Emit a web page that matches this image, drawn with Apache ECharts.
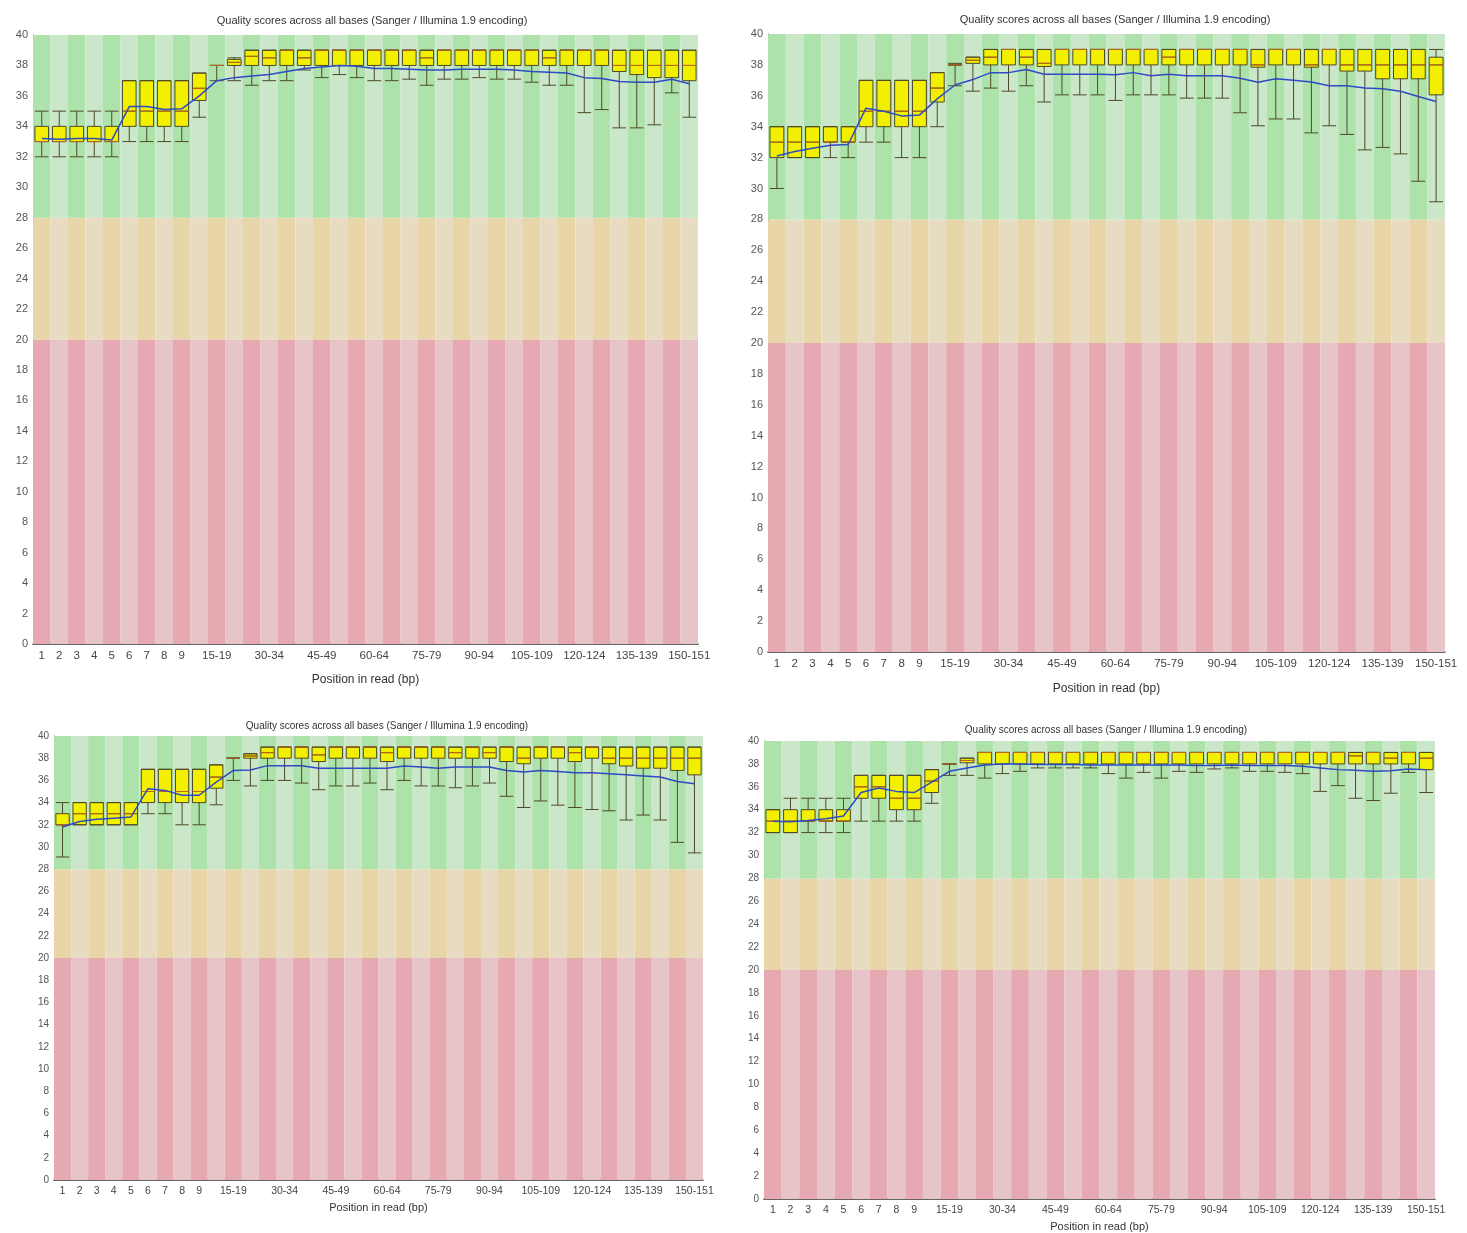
<!DOCTYPE html>
<html>
<head>
<meta charset="utf-8">
<title>Per base sequence quality</title>
<script src="https://cdn.jsdelivr.net/npm/echarts@6/dist/echarts.min.js"></script>
<style>
    html, body { margin: 0; padding: 0; background: #fff; }
    #chartMain { width: 1467px; height: 1233px; }
</style>
</head>
<body>
<div id="chartMain"></div>
<script>
const positions = ['1', '2', '3', '4', '5', '6', '7', '8', '9', '10-14', '15-19', '20-24', '25-29',
    '30-34', '35-39', '40-44', '45-49', '50-54', '55-59', '60-64', '65-69', '70-74', '75-79', '80-84',
    '85-89', '90-94', '95-99', '100-104', '105-109', '110-114', '115-119', '120-124', '125-129',
    '130-134', '135-139', '140-144', '145-149', '150-151'];

// upper edge of the red / orange / green quality bands
const bandTops = [20, 28, 40];

// top left sample
const lowA = [32, 32, 32, 32, 32, 33, 33, 33, 33, 34.6, 37, 37, 36.7, 37, 37, 37.7, 37.2, 37.4, 37.2,
    37, 37, 37.1, 36.7, 37.1, 37.1, 37.2, 37.1, 37.1, 36.9, 36.7, 36.7, 34.9, 35.1, 33.9, 33.9, 34.1, 36.2, 34.6];
const q1A = [33, 33, 33, 33, 33, 34, 34, 34, 34, 35.7, 38, 38, 38, 38, 38, 38, 38, 38, 38,
    38, 38, 38, 38, 38, 38, 38, 38, 38, 38, 38, 38, 38, 38, 37.6, 37.4, 37.2, 37.2, 37];
const medA = [33, 33, 33, 33, 33, 35, 35, 35, 35, 36.5, 38, 38.2, 38.6, 38.5, 39, 38.5, 39, 39, 39,
    39, 39, 39, 38.5, 39, 39, 39, 39, 39, 39, 38.5, 39, 39, 39, 38, 38, 38, 38, 38];
const q3A = [34, 34, 34, 34, 34, 37, 37, 37, 37, 37.5, 38, 38.4, 39, 39, 39, 39, 39, 39, 39,
    39, 39, 39, 39, 39, 39, 39, 39, 39, 39, 39, 39, 39, 39, 39, 39, 39, 39, 39];
const highA = [35, 35, 35, 35, 35, 37, 37, 37, 37, 37.5, 38, 38.5, 39, 39, 39, 39, 39, 39, 39,
    39, 39, 39, 39, 39, 39, 39, 39, 39, 39, 39, 39, 39, 39, 39, 39, 39, 39, 39];
const meanA = [33.2, 33.15, 33.2, 33.2, 33.1, 35.3, 35.3, 35.1, 35.15, 36.0, 37.0, 37.2, 37.3, 37.4, 37.6,
    37.8, 37.9, 38.0, 37.95, 37.8, 37.8, 37.75, 37.7, 37.7, 37.75, 37.75, 37.75, 37.7, 37.6, 37.55, 37.5,
    37.2, 37.15, 36.95, 36.9, 36.9, 37.1, 36.8];

// top right sample
const lowB = [30, 32, 32, 32, 32, 33, 33, 32, 32, 34, 36.65, 36.3, 36.5, 36.3, 36.65, 35.6, 36.06, 36.06, 36.06,
    35.7, 36.06, 36.06, 36.06, 35.85, 35.85, 35.85, 34.9, 34.06, 34.5, 34.5, 33.6, 34.06, 33.5, 32.5, 32.66,
    32.24, 30.47, 29.14];
const q1B = [32, 32, 32, 33, 33, 34, 34, 34, 34, 35.6, 38, 38.1, 38, 38, 38, 37.9, 38, 38, 38,
    38, 38, 38, 38, 38, 38, 38, 38, 37.85, 38, 38, 37.85, 38, 37.6, 37.6, 37.1, 37.1, 37.1, 36.06];
const medB = [33, 33, 33, 33, 33, 35, 35, 35, 35, 36.5, 38, 38.3, 38.5, 39, 38.5, 38.1, 39, 39, 39,
    39, 39, 39, 38.5, 39, 39, 39, 39, 38, 39, 39, 38, 39, 38, 38, 38, 38, 38, 38];
const q3B = [34, 34, 34, 34, 34, 37, 37, 37, 37, 37.5, 38, 38.5, 39, 39, 39, 39, 39, 39, 39,
    39, 39, 39, 39, 39, 39, 39, 39, 39, 39, 39, 39, 39, 39, 39, 39, 39, 39, 38.5];
const highB = [34, 34, 34, 34, 34, 37, 37, 37, 37, 37.5, 38.1, 38.5, 39, 39, 39, 39, 39, 39, 39,
    39, 39, 39, 39, 39, 39, 39, 39, 39, 39, 39, 39, 39, 39, 39, 39, 39, 39, 39];
const meanB = [32.1, 32.4, 32.6, 32.8, 32.85, 35.2, 35.0, 34.7, 34.75, 35.8, 36.7, 37.05, 37.5, 37.5, 37.7,
    37.4, 37.4, 37.4, 37.4, 37.36, 37.5, 37.3, 37.4, 37.3, 37.3, 37.3, 37.14, 36.88, 37.1, 37.0, 36.9,
    36.65, 36.65, 36.5, 36.45, 36.3, 35.96, 35.63];

// bottom left sample
const lowC = [29.1, 32, 32, 32, 32, 33, 33, 32, 32, 33.8, 36, 35.5, 36, 36, 35.76, 35.16, 35.5, 35.5, 35.76,
    35.16, 36, 35.5, 35.5, 35.34, 35.5, 35.76, 34.57, 33.56, 34.15, 33.77, 33.56, 33.38, 33.26, 32.43,
    32.88, 32.43, 30.42, 29.47];
const q1C = [32, 32, 32, 32, 32, 34, 34, 34, 34, 35.3, 38, 38, 38, 38, 38, 37.7, 38, 38, 38,
    37.7, 38, 38, 38, 38, 38, 38, 37.7, 37.5, 38, 38, 37.7, 38, 37.5, 37.3, 37.1, 37.1, 36.9, 36.5];
const medC = [32, 33, 33, 33, 33, 35, 35, 35, 35, 36.3, 38, 38.2, 38.5, 39, 39, 38.3, 39, 39, 39,
    38.5, 39, 39, 39, 38.5, 39, 38.5, 39, 38, 39, 39, 38.5, 39, 38, 38, 38, 38, 38, 38];
const q3C = [33, 34, 34, 34, 34, 37, 37, 37, 37, 37.4, 38, 38.4, 39, 39, 39, 39, 39, 39, 39,
    39, 39, 39, 39, 39, 39, 39, 39, 39, 39, 39, 39, 39, 39, 39, 39, 39, 39, 39];
const highC = [34, 34, 34, 34, 34, 37, 37, 37, 37, 37.4, 38, 38.4, 39, 39, 39, 39, 39, 39, 39,
    39, 39, 39, 39, 39, 39, 39, 39, 39, 39, 39, 39, 39, 39, 39, 39, 39, 39, 39];
const meanC = [31.8, 32.3, 32.5, 32.6, 32.7, 35.25, 35.1, 34.66, 34.66, 35.85, 36.9, 36.94, 37.33, 37.33, 37.33,
    37.1, 37.1, 37.1, 37.1, 37.1, 37.3, 37.2, 37.1, 37.2, 37.2, 37.2, 36.9, 36.75, 36.9, 36.8, 36.7,
    36.7, 36.6, 36.5, 36.4, 36.3, 35.9, 35.7];

// bottom right sample
const lowD = [32, 32, 32, 32, 32, 33, 33, 33, 33, 34.56, 37, 37, 36.76, 37.15, 37.35, 37.65, 37.65, 37.65, 37.65,
    37.15, 36.76, 37.26, 36.76, 37.35, 37.26, 37.56, 37.65, 37.35, 37.35, 37.26, 37.15, 35.6, 36.1, 35.0,
    34.8, 35.44, 37.26, 35.5];
const q1D = [32, 32, 33, 33, 33, 35, 35, 34, 34, 35.5, 38, 38.1, 38, 38, 38, 38, 38, 38, 38,
    38, 38, 38, 38, 38, 38, 38, 38, 38, 38, 38, 38, 38, 38, 38, 38, 38, 38, 37.5];
const medD = [33, 33, 33, 33, 33, 36, 36, 35, 35, 36.5, 38, 38.3, 39, 39, 39, 39, 39, 39, 39,
    39, 39, 39, 39, 39, 39, 39, 39, 39, 39, 39, 39, 39, 39, 38.7, 39, 38.5, 39, 38.5];
const q3D = [34, 34, 34, 34, 34, 37, 37, 37, 37, 37.5, 38, 38.5, 39, 39, 39, 39, 39, 39, 39,
    39, 39, 39, 39, 39, 39, 39, 39, 39, 39, 39, 39, 39, 39, 39, 39, 39, 39, 39];
const highD = [34, 35, 35, 35, 35, 37, 37, 37, 37, 37.5, 38, 38.5, 39, 39, 39, 39, 39, 39, 39,
    39, 39, 39, 39, 39, 39, 39, 39, 39, 39, 39, 39, 39, 39, 39, 39, 39, 39, 39];
const meanD = [33.0, 32.95, 33.05, 33.2, 33.45, 35.5, 35.9, 35.6, 35.5, 36.4, 37.35, 37.65, 37.9, 38.0, 38.0,
    37.95, 37.95, 37.95, 37.9, 37.9, 37.9, 37.9, 37.9, 37.9, 37.85, 37.85, 37.9, 37.85, 37.85, 37.85, 37.8,
    37.65, 37.5, 37.45, 37.35, 37.4, 37.55, 37.5];

const samples = [
    { low: lowA, q1: q1A, med: medA, q3: q3A, high: highA, mean: meanA },
    { low: lowB, q1: q1B, med: medB, q3: q3B, high: highB, mean: meanB },
    { low: lowC, q1: q1C, med: medC, q3: q3C, high: highC, mean: meanC },
    { low: lowD, q1: q1D, med: medD, q3: q3D, high: highD, mean: meanD }
];

// where each panel sits on the page
const layouts = [
    { grid: { left: 33, top: 35, width: 665, height: 609 }, titleX: 367, titleY: 10, font: 11, nameGap: 30 },
    { grid: { left: 768, top: 34, width: 677, height: 618 }, titleX: 1110, titleY: 9, font: 11, nameGap: 31 },
    { grid: { left: 54, top: 736, width: 649, height: 444 }, titleX: 382, titleY: 716, font: 10, nameGap: 22 },
    { grid: { left: 764, top: 741, width: 671, height: 458 }, titleX: 1101, titleY: 720, font: 10, nameGap: 22 }
];

const bandColors = [
    ['#e6a9b1', '#e7c4c7'],
    ['#e8d5a8', '#e7dcc1'],
    ['#aee2ab', '#cbe7c9']
];

const fontFamily = 'Liberation Sans, Arial, sans-serif';

const showLabel = (index) => index < 9 || (index >= 10 && (index - 10) % 3 === 0);

const chartDom = document.getElementById('chartMain');
const myChart = echarts.init(chartDom);

var option = {
    animation: false,
    backgroundColor: '#fff',
    title: [],
    grid: [],
    xAxis: [],
    yAxis: [],
    series: []
};

samples.forEach((s, i) => {
    const lay = layouts[i];

    option.grid.push(lay.grid);

    option.title.push({
        text: 'Quality scores across all bases (Sanger / Illumina 1.9 encoding)',
        left: lay.titleX,
        top: lay.titleY,
        textAlign: 'center',
        textStyle: { fontSize: lay.font, fontWeight: 'normal', color: '#333', fontFamily: fontFamily }
    });

    option.xAxis.push({
        gridIndex: i,
        type: 'category',
        data: positions,
        boundaryGap: true,
        axisLine: { lineStyle: { color: '#333', width: 1.5 } },
        axisTick: { show: false },
        axisLabel: { interval: showLabel, fontSize: lay.font + 0.5, color: '#444', margin: 6, fontFamily: fontFamily },
        splitLine: { show: false },
        name: 'Position in read (bp)',
        nameLocation: 'middle',
        nameGap: lay.nameGap,
        nameTextStyle: { fontSize: lay.font + 1, color: '#333', fontFamily: fontFamily }
    });

    option.yAxis.push({
        gridIndex: i,
        type: 'value',
        min: 0,
        max: 40,
        interval: 2,
        axisLine: { show: true, lineStyle: { color: '#555', width: 1 } },
        axisTick: { show: false },
        splitLine: { show: false },
        axisLabel: { fontSize: lay.font, color: '#555', margin: 5, fontFamily: fontFamily }
    });

    // background quality bands, striped per position
    bandTops.forEach((top, b) => {
        const height = top - (b ? bandTops[b - 1] : 0);
        option.series.push({
            type: 'bar',
            xAxisIndex: i,
            yAxisIndex: i,
            stack: 'band' + i,
            barWidth: '100%',
            barCategoryGap: '0%',
            silent: true,
            z: 1,
            data: positions.map(() => height),
            itemStyle: { color: (p) => bandColors[b][p.dataIndex % 2] }
        });
    });

    option.series.push({
        type: 'boxplot',
        xAxisIndex: i,
        yAxisIndex: i,
        z: 3,
        silent: true,
        boxWidth: ['78%', '78%'],
        itemStyle: { color: '#f2f000', borderColor: '#4d4a26', borderWidth: 1 },
        data: positions.map((_, k) => [s.low[k], s.q1[k], s.med[k], s.q3[k], s.high[k]])
    });

    // median bars
    option.series.push({
        type: 'custom',
        xAxisIndex: i,
        yAxisIndex: i,
        z: 4,
        silent: true,
        encode: { x: 0, y: 1 },
        data: positions.map((_, k) => [k, s.med[k]]),
        renderItem: function (params, api) {
            const pt = api.coord([api.value(0), api.value(1)]);
            const w = api.size([1, 0])[0] * 0.78;
            return {
                type: 'line',
                shape: { x1: pt[0] - w / 2, y1: pt[1], x2: pt[0] + w / 2, y2: pt[1] },
                style: { stroke: '#c2661e', lineWidth: 1 }
            };
        }
    });

    option.series.push({
        type: 'line',
        xAxisIndex: i,
        yAxisIndex: i,
        z: 5,
        silent: true,
        symbol: 'none',
        data: s.mean,
        lineStyle: { color: '#2d4bc4', width: 1.5 }
    });
});

option && myChart.setOption(option);
</script>
</body>
</html>
